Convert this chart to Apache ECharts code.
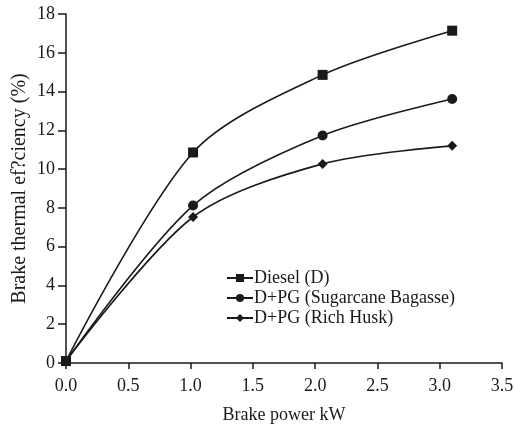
<!DOCTYPE html>
<html>
<head>
<meta charset="utf-8">
<script src="https://cdn.jsdelivr.net/npm/echarts@6/dist/echarts.min.js"></script>
<style>
  body { margin: 0; background: #fff; }
  #chart { width: 515px; height: 425px; }
</style>
</head>
<body>
<div id="chart"></div>
<script>
// brake power (kW) and brake thermal efficiency (%)
var power = [0, 1.02, 2.06, 3.10];
var diesel = [0.1, 10.86, 14.86, 17.14];
var sugarcane = [0.1, 8.12, 11.73, 13.62];
var riceHusk = [0.1, 7.53, 10.27, 11.2];
var seriesNames = ['Diesel (D)', 'D+PG (Sugarcane Bagasse)', 'D+PG (Rich Husk)'];

function pairs(ys) {
  return power.map(function (x, i) { return [x, ys[i]]; });
}

var ink = '#1a1a1a';
var font = 'Liberation Serif, Times New Roman, serif';
var myChart = echarts.init(document.getElementById('chart'));

function line(name, ys, symbol, size) {
  return {
    name: name,
    type: 'line',
    data: pairs(ys),
    smooth: 0.3,
    symbol: symbol,
    symbolSize: size,
    lineStyle: { color: ink, width: 1.6 },
    itemStyle: { color: ink },
    z: 3
  };
}

var option = {
  animation: false,
  textStyle: { fontFamily: font },
  grid: { left: 66, right: 13, top: 14, bottom: 62, outerBoundsMode: 'none' },
  legend: {
    orient: 'vertical',
    left: 226,
    top: 269,
    padding: 0,
    itemWidth: 26,
    itemHeight: 10,
    itemGap: 2,
    textStyle: { fontFamily: font, fontSize: 18, color: ink, padding: [0, 0, 0, -4] },
    data: seriesNames
  },
  xAxis: {
    type: 'value',
    min: 0,
    max: 3.5,
    interval: 0.5,
    name: 'Brake power kW',
    nameLocation: 'middle',
    nameGap: 43,
    nameMoveOverlap: false,
    nameTextStyle: { fontFamily: font, fontSize: 18, color: ink },
    axisLine: { lineStyle: { color: ink, width: 1.5 } },
    axisTick: { length: 6, lineStyle: { color: ink, width: 1.5 } },
    axisLabel: { fontFamily: font, fontSize: 18, color: ink, margin: 14,
      formatter: function (v) { return v.toFixed(1); } },
    splitLine: { show: false }
  },
  yAxis: {
    type: 'value',
    min: 0,
    max: 18,
    interval: 2,
    name: 'Brake thermal ef?ciency (%)',
    nameLocation: 'middle',
    nameGap: 36,
    nameMoveOverlap: false,
    nameTextStyle: { fontFamily: font, fontSize: 20, color: ink },
    axisLine: { show: true, lineStyle: { color: ink, width: 1.5 } },
    axisTick: { show: true, length: 8, lineStyle: { color: ink, width: 1.5 } },
    axisLabel: { fontFamily: font, fontSize: 18, color: ink, margin: 11 },
    splitLine: { show: false }
  },
  series: [
    line(seriesNames[0], diesel, 'rect', 10),
    line(seriesNames[1], sugarcane, 'circle', 10),
    line(seriesNames[2], riceHusk, 'diamond', 10)
  ]
};

myChart.setOption(option);
</script>
</body>
</html>
